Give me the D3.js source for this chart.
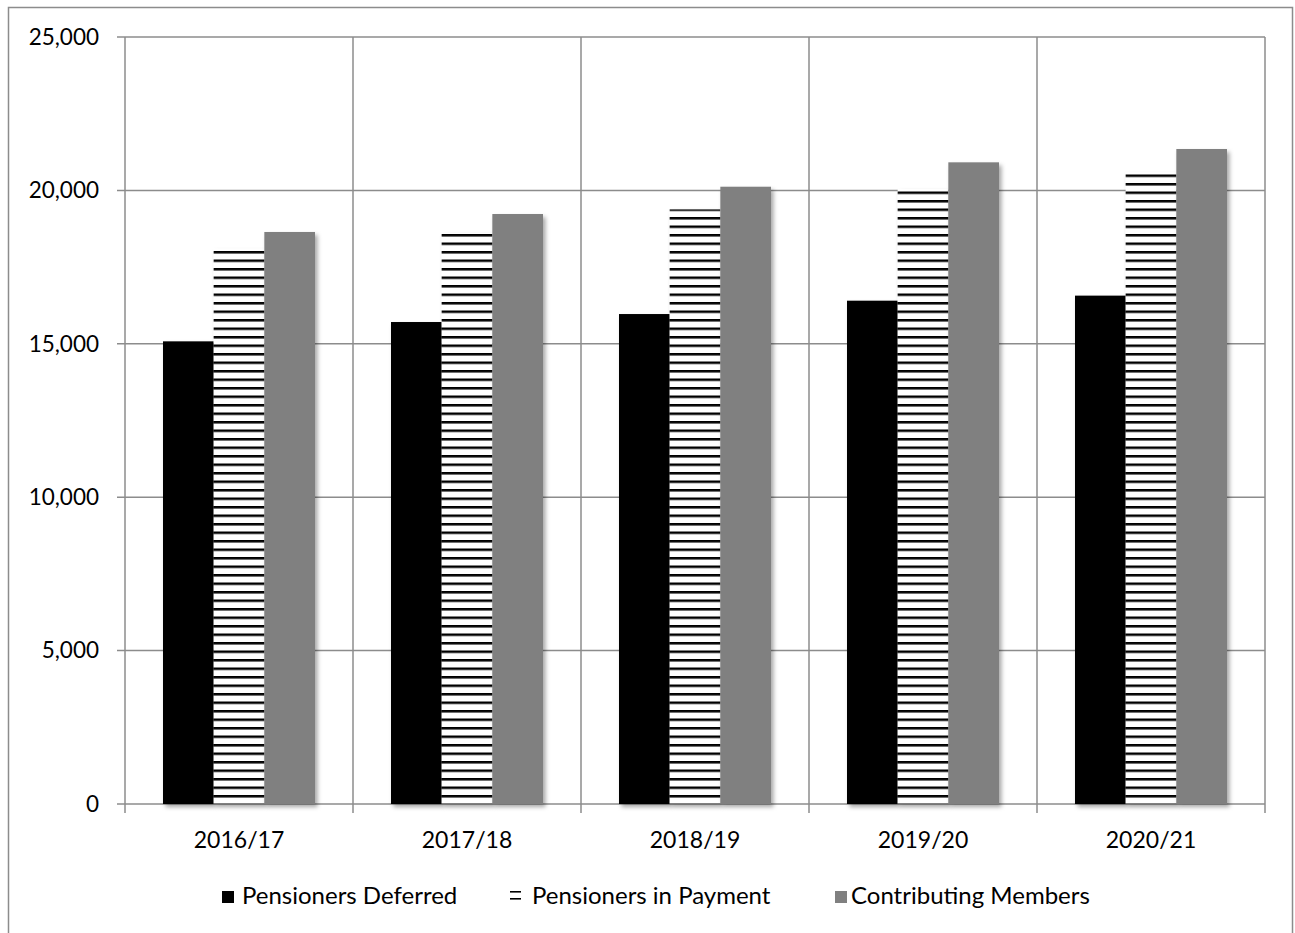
<!DOCTYPE html>
<html>
<head>
<meta charset="utf-8">
<script src="https://cdn.jsdelivr.net/npm/d3@7"></script>
<style>
  html, body { margin: 0; padding: 0; background: #fff; }
  svg { display: block; font-family: Lato, "Open Sans", sans-serif; }
</style>
</head>
<body>
<svg id="chart" width="1295" height="933"></svg>
<script>
// Membership counts by year
const years = ["2016/17", "2017/18", "2018/19", "2019/20", "2020/21"];
const seriesNames = ["Pensioners Deferred", "Pensioners in Payment", "Contributing Members"];
const pensionersDeferred = [15080, 15710, 15970, 16405, 16570];
const pensionersInPayment = [18100, 18610, 19380, 20045, 20590];
const contributingMembers = [18645, 19230, 20120, 20915, 21350];
const yTicks = [0, 5000, 10000, 15000, 20000, 25000];

const seriesValues = [pensionersDeferred, pensionersInPayment, contributingMembers];

const svg = d3.select("#chart");
const W = 1295, H = 933;
const margin = { left: 125, right: 30, top: 37, bottom: 129 };
const plotW = W - margin.left - margin.right;
const plotH = H - margin.top - margin.bottom;

const defs = svg.append("defs");

// Horizontal stripe fill
const pat = defs.append("pattern")
  .attr("id", "stripes")
  .attr("patternUnits", "userSpaceOnUse")
  .attr("width", 10).attr("height", 8.5)
  .attr("y", 1.5);
pat.append("rect").attr("width", 10).attr("height", 8.5).attr("fill", "#fff");
pat.append("rect").attr("y", 0).attr("width", 10).attr("height", 2.5).attr("fill", "#000");

// Soft shadow beneath bars
const shadow = defs.append("filter")
  .attr("id", "shadow")
  .attr("x", "-20%").attr("y", "-5%").attr("width", "150%").attr("height", "115%");
shadow.append("feDropShadow")
  .attr("dx", 2.5).attr("dy", 3).attr("stdDeviation", 2.2)
  .attr("flood-color", "#000").attr("flood-opacity", 0.35);

const fills = ["#000000", "url(#stripes)", "#808080"];

// Outer frame
svg.append("rect")
  .attr("x", 8.5).attr("y", 7.5)
  .attr("width", 1284).attr("height", 940)
  .attr("fill", "none").attr("stroke", "#8c8c8c").attr("stroke-width", 1.5);

const g = svg.append("g").attr("transform", `translate(${margin.left},${margin.top})`);

const y = d3.scaleLinear().domain([0, 25000]).range([plotH, 0]);
const x0 = d3.scaleBand().domain(years).range([0, plotW]).padding(0);
const x1 = d3.scaleBand().domain(seriesNames).range([0, x0.bandwidth()])
  .paddingInner(0).paddingOuter(0.75);

const gridColor = "#8c8c8c";

// Horizontal gridlines
g.append("g").selectAll("line").data(yTicks).join("line")
  .attr("x1", -8).attr("x2", plotW)
  .attr("y1", d => y(d)).attr("y2", d => y(d))
  .attr("stroke", gridColor).attr("stroke-width", 1.5);

// Vertical gridlines at category boundaries
const bounds = years.map(d => x0(d)).concat([plotW]);
g.append("g").selectAll("line").data(bounds).join("line")
  .attr("x1", d => d).attr("x2", d => d)
  .attr("y1", 0).attr("y2", plotH + 9)
  .attr("stroke", gridColor).attr("stroke-width", 1.5);

// Y axis labels
const fmt = d3.format(",");
g.append("g").selectAll("text").data(yTicks).join("text")
  .attr("x", -26).attr("y", d => y(d))
  .attr("dy", "0.35em")
  .attr("text-anchor", "end")
  .attr("font-size", 22.5)
  .attr("fill", "#000")
  .text(d => fmt(d));

// Bars
const groups = g.append("g").selectAll("g").data(years).join("g")
  .attr("transform", d => `translate(${x0(d)},0)`);

groups.selectAll("rect")
  .data((d, i) => seriesNames.map((s, k) => ({ s, k, v: seriesValues[k][i] })))
  .join("rect")
  .attr("x", d => x1(d.s))
  .attr("y", d => y(d.v))
  .attr("width", x1.bandwidth())
  .attr("height", d => plotH - y(d.v))
  .attr("fill", d => fills[d.k])
  .attr("filter", "url(#shadow)");

// Category labels
g.append("g").selectAll("text").data(years).join("text")
  .attr("x", d => x0(d) + x0.bandwidth() / 2)
  .attr("y", plotH + 36)
  .attr("dy", "0.35em")
  .attr("text-anchor", "middle")
  .attr("font-size", 23)
  .attr("fill", "#000")
  .text(d => d);

// Legend
const legendItems = [
  { name: seriesNames[0], mx: 222, tx: 242, fill: fills[0] },
  { name: seriesNames[1], mx: 510, tx: 532, fill: "stripes" },
  { name: seriesNames[2], mx: 835, tx: 851, fill: fills[2] }
];
const ly = 896;
const leg = svg.append("g");
legendItems.forEach(it => {
  if (it.fill === "stripes") {
    leg.append("rect").attr("x", it.mx).attr("y", ly - 5).attr("width", 11).attr("height", 1.6).attr("fill", "#000");
    leg.append("rect").attr("x", it.mx).attr("y", ly + 2).attr("width", 11).attr("height", 1.6).attr("fill", "#000");
  } else {
    leg.append("rect").attr("x", it.mx).attr("y", ly - 5).attr("width", 12).attr("height", 12).attr("fill", it.fill);
  }
  leg.append("text")
    .attr("x", it.tx).attr("y", ly)
    .attr("dy", "0.35em")
    .attr("font-size", 24)
    .attr("fill", "#000")
    .text(it.name);
});
</script>
</body>
</html>
